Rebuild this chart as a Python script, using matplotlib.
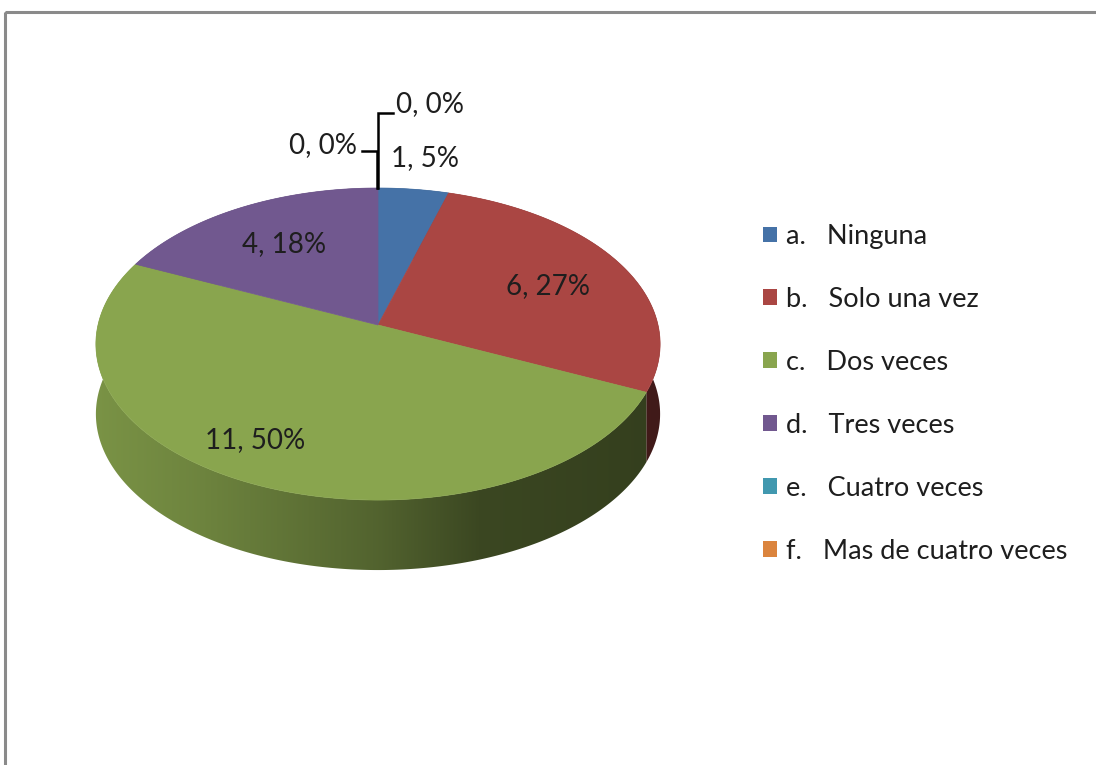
import numpy as np
import matplotlib

matplotlib.use("Agg")
import matplotlib.pyplot as plt
from matplotlib.patches import Polygon, Rectangle, Patch

# data
letters = ["a.", "b.", "c.", "d.", "e.", "f."]
categories = ["Ninguna", "Solo una vez", "Dos veces", "Tres veces",
              "Cuatro veces", "Mas de cuatro veces"]
counts = [1, 6, 11, 4, 0, 0]
percents = [5, 27, 50, 18, 0, 0]
colors = ["#4572A7", "#AA4643", "#89A54E", "#71588F", "#4198AF", "#DB843D"]

FONT = ["Lato", "DejaVu Sans"]
TXT = "#1e1e1e"

# pie geometry in pixel space (y grows downwards)
CX, CY = 378, 325
A, B, K = 280, 153.7, 0.122
DEPTH = 70


def rim(theta, drop=0.0):
    u, v = np.sin(theta), np.cos(theta)
    s = 1 + K * v
    return CX + A * u / s, CY - B * v / s + drop


def shade(x):
    return np.interp(x, [95, 200, 290, 378, 480, 660],
                     [0.89, 0.80, 0.70, 0.60, 0.43, 0.38])


fig = plt.figure(figsize=(10.96, 7.65), dpi=100)
ax = fig.add_axes([0, 0, 1, 1])
ax.axis("off")

# chart frame
ax.add_patch(Rectangle((5, 12), 1200, 900, fill=False, ec="#8a8a8a", lw=2.2))

total = sum(counts)
edges = np.concatenate([[0], np.cumsum(counts)]) / total * 2 * np.pi

# side walls: one polygon per slice, filled with a left-to-right shade
gx = np.linspace(90, 670, 300)
for i, col in enumerate(colors):
    t0, t1 = edges[i], edges[i + 1]
    if t1 - t0 <= 0:
        continue
    ts = np.linspace(t0, t1, 300)
    xs, ys = rim(ts)
    pts = list(zip(xs, ys)) + list(zip(xs[::-1], ys[::-1] + DEPTH))
    wall = Polygon(pts, closed=True, fc="none", ec="none")
    ax.add_patch(wall)
    base = np.array(matplotlib.colors.to_rgb(col))
    grad = (base[None, None, :] * shade(gx)[None, :, None]).clip(0, 1)
    im = ax.imshow(grad, extent=(gx[0], gx[-1], 620, 150), aspect="auto",
                   interpolation="bilinear", zorder=1)
    im.set_clip_path(wall)

# top face
for i, col in enumerate(colors):
    t0, t1 = edges[i], edges[i + 1]
    if t1 - t0 <= 0:
        continue
    ts = np.linspace(t0, t1, 200)
    xs, ys = rim(ts)
    pts = [(CX, CY)] + list(zip(xs, ys))
    ax.add_patch(Polygon(pts, closed=True, fc=col, ec=col, lw=0.5, zorder=2))

# data labels
lab_pos = {0: (425, 158), 1: (548, 286), 2: (255, 440), 3: (284, 244)}
for i, (x, y) in lab_pos.items():
    ax.text(x, y, f"{counts[i]}, {percents[i]}%", ha="center", va="center",
            fontsize=20, family=FONT, color=TXT, zorder=4)

# zero-value slices sit at 12 o'clock, labels pulled out with leaders
top_x, top_y = rim(0.0)
ax.plot([top_x, top_x, top_x + 15], [top_y, 113, 113], color="black", lw=1.8,
        solid_joinstyle="miter", zorder=3)
ax.plot([top_x - 0.8, top_x - 0.8, top_x - 16], [top_y, 151, 151],
        color="black", lw=1.8, solid_joinstyle="miter", zorder=3)
ax.text(396, 104, f"{counts[5]}, {percents[5]}%", ha="left", va="center",
        fontsize=20, family=FONT, color=TXT)
ax.text(357, 145, f"{counts[4]}, {percents[4]}%", ha="right", va="center",
        fontsize=20, family=FONT, color=TXT)

# legend
handles = [Patch(fc=c, ec="none") for c in colors]
labels = [f"{l}   {n}" for l, n in zip(letters, categories)]
leg = ax.legend(handles, labels, loc="upper left", frameon=False,
                bbox_to_anchor=(763 / 1096, 1 - 224 / 765),
                prop={"family": FONT, "size": 19.5},
                handlelength=0.52, handleheight=0.52, handletextpad=0.33,
                labelspacing=1.40, borderaxespad=0, borderpad=0)
for t in leg.get_texts():
    t.set_color(TXT)

ax.set_xlim(0, 1096)
ax.set_ylim(765, 0)
fig.savefig("out.png", dpi=100)
